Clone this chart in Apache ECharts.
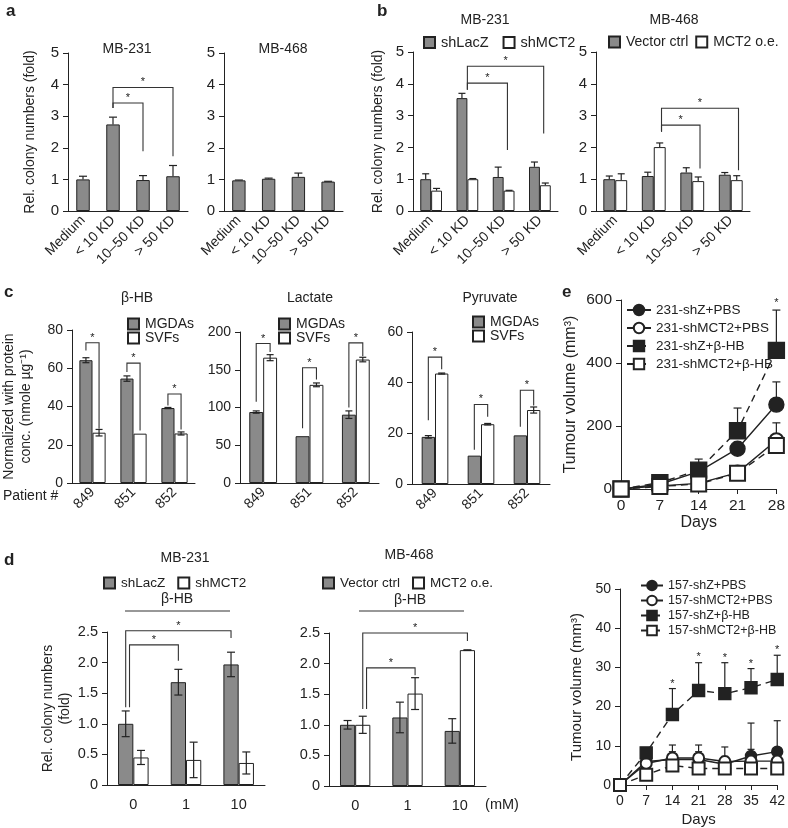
<!DOCTYPE html>
<html>
<head>
<meta charset="utf-8">
<script src="https://cdn.jsdelivr.net/npm/echarts@6/dist/echarts.min.js"></script>
<style>
  html, body { margin: 0; background: #fff; }
  #chart { width: 788px; height: 828px; }
</style>
</head>
<body>
<div id="chart"></div>
<script>
// ---- data ----
const fractions = ['Medium', '< 10 KD', '10–50 KD', '> 50 KD'];
const a231 = [1.0, 2.74, 0.98, 1.1];
const a231Err = [0.1, 0.23, 0.14, 0.34];
const a468 = [0.97, 1.02, 1.08, 0.93];
const a468Err = [0.01, 0.02, 0.12, 0.01];

const b231LacZ = [1.0, 3.55, 1.07, 1.39];
const b231LacZErr = [0.17, 0.15, 0.31, 0.15];
const b231MCT2 = [0.64, 1.0, 0.64, 0.81];
const b231MCT2Err = [0.07, 0.02, 0.01, 0.07];
const b468Vec = [1.0, 1.1, 1.21, 1.14];
const b468VecErr = [0.1, 0.12, 0.15, 0.07];
const b468OE = [0.97, 2.01, 0.94, 0.97];
const b468OEErr = [0.2, 0.13, 0.13, 0.14];

const patients = ['849', '851', '852'];
const hbMGDA = [64.2, 54.6, 39.2];
const hbMGDAErr = [1.3, 1.4, 0.3];
const hbSVF = [26.3, 25.8, 25.9];
const hbSVFErr = [1.7, 0, 0.8];
const lacMGDA = [94, 62, 90.5];
const lacMGDAErr = [1.5, 0, 5];
const lacSVF = [166, 130, 163.5];
const lacSVFErr = [4, 2.5, 3];
const pyrMGDA = [18.6, 11.2, 19.2];
const pyrMGDAErr = [0.5, 0, 0];
const pyrSVF = [43.6, 23.6, 29.2];
const pyrSVFErr = [0.2, 0.3, 1.2];

const doses = ['0', '1', '10'];
const d231LacZ = [1.0, 1.68, 1.97];
const d231LacZErr = [0.21, 0.21, 0.2];
const d231MCT2 = [0.45, 0.41, 0.36];
const d231MCT2Err = [0.115, 0.29, 0.18];
const d468Vec = [1.0, 1.12, 0.9];
const d468VecErr = [0.07, 0.25, 0.2];
const d468OE = [1.0, 1.51, 2.22];
const d468OEErr = [0.14, 0.26, 0.005];

const daysTop = [0, 7, 14, 21, 28];
const t231ZPBS = [0, 15, 55, 128, 268];
const t231ZPBSErr = [0, 3, 10, 20, 72];
const t231MCT2PBS = [0, 10, 18, 52, 155];
const t231MCT2PBSErr = [0, 2, 3, 10, 55];
const t231ZHB = [0, 20, 60, 185, 440];
const t231ZHBErr = [0, 5, 35, 72, 128];
const t231MCT2HB = [0, 8, 16, 50, 138];
const t231MCT2HBErr = [0, 2, 3, 18, 34];
const starsTop = [[28, 600]];

const daysBot = [0, 7, 14, 21, 28, 35, 42];
const b157ZPBS = [0, 6.0, 6.5, 6.5, 5.3, 7.4, 8.5];
const b157ZPBSErr = [0, 1, 2, 2, 2, 8.4, 7.9];
const b157MCT2PBS = [0, 5.5, 6.9, 6.9, 6.0, 6.1, 6.1];
const b157MCT2PBSErr = [0, 1, 3.3, 3.3, 3.7, 3, 3];
const b157ZHB = [0, 8.2, 18.0, 24.1, 23.3, 24.8, 26.9];
const b157ZHBErr = [0, 0, 6.6, 7.1, 7.9, 4.9, 6.2];
const b157MCT2HB = [0, 2.6, 5.0, 4.2, 4.2, 4.2, 4.2];
const b157MCT2HBErr = [0, 0.5, 0.5, 0.5, 0.5, 0.5, 0.5];
const starsBot = [[14, 26.6], [21, 33.4], [28, 33.1], [35, 31.7], [42, 35.1]];

// significance brackets: [cat1, side1, cat2, side2, top, leftEnd, rightEnd]
// side: -1 first bar centre, +1 second bar centre, 0 category centre
const brA231 = [[1, 0, 2, 0, 3.42, 3.26, 1.89], [1, 0, 3, 0, 3.91, 3.26, 1.73]];
const brB231 = [[1, 0, 2, 0.7, 4.02, 3.81, 1.92], [1, 0, 3, 0.7, 4.55, 3.81, 2.44]];
const brB468 = [[1, 1.3, 2, 1.3, 2.7, 2.49, 1.34], [1, 1.3, 3, 1.3, 3.23, 2.49, 1.28]];
const brHB = [[0, -1, 0, 1, 73.3, 69.3, 28.4], [1, -1, 1, 1, 62.7, 58, 27.5], [2, -1, 2, 1, 46.5, 40.5, 28]];
const brLac = [[0, -1, 0, 1, 184.8, 107.7, 173.6], [1, -1, 1, 1, 152.6, 72.5, 137], [2, -1, 2, 1, 185.6, 100, 168]];
const brPyr = [[0, -1, 0, 1, 50.1, 25.2, 45.3], [1, -1, 1, 1, 31.4, 13.5, 26.5], [2, -1, 2, 1, 37, 22.6, 31]];
const brD231 = [[0, -0.5, 1, -1, 2.29, 1.27, 2.03], [0, -1, 2, -1, 2.52, 1.27, 2.4]];
const brD468 = [[0, 1.5, 1, 1, 1.93, 1.26, 1.81], [0, 1, 2, 1, 2.5, 1.26, 2.37]];

// ---- styling helpers ----
const FONT = '"Liberation Sans", Arial, Helvetica, sans-serif';
const INK = '#222';
const GRAY = '#8a8a8a';

function catX(gi, cats, fs, rotate, margin) {
  return {
    type: 'category', gridIndex: gi, data: cats,
    axisLine: { lineStyle: { color: INK, width: 1 } },
    axisTick: { length: 5, lineStyle: { color: INK } },
    axisLabel: { rotate: rotate, margin: margin, fontSize: fs, color: INK, fontFamily: FONT, interval: 0 },
    splitLine: { show: false }
  };
}
function valAxis(gi, min, max, interval, fs, extra) {
  return Object.assign({
    type: 'value', gridIndex: gi, min: min, max: max, interval: interval,
    axisLine: { show: true, lineStyle: { color: INK, width: 1 } },
    axisTick: { show: true, length: 5, lineStyle: { color: INK } },
    axisLabel: { fontSize: fs, color: INK, fontFamily: FONT, margin: 9 },
    splitLine: { show: false },
    nameTextStyle: { fontSize: 14, color: INK, fontFamily: FONT, lineHeight: 17 }
  }, extra || {});
}

function bar(gi, name, vals, fill, w) {
  return {
    type: 'bar', name: name, xAxisIndex: gi, yAxisIndex: gi, data: vals,
    barWidth: w, barGap: '0%', z: 2,
    itemStyle: { color: fill, borderColor: INK, borderWidth: 1 }
  };
}

function errorBars(gi, vals, errs, side, barW, cap, both, xs) {
  return {
    type: 'custom', xAxisIndex: gi, yAxisIndex: gi, z: both ? 4 : 1, silent: true,
    data: vals.map((v, i) => [xs ? xs[i] : i, v, errs[i]]),
    renderItem: (params, api) => {
      const e = api.value(2);
      if (!e) return { type: 'group', children: [] };
      const v = api.value(1);
      const base = api.coord([api.value(0), v]);
      const band = api.size([1, 0])[0];
      const x = base[0] + side * band * barW / 2;
      const top = api.coord([api.value(0), v + e])[1];
      const bot = both ? api.coord([api.value(0), v - e])[1] : base[1];
      const st = { stroke: INK, lineWidth: 1.2 };
      const kids = [
        { type: 'line', shape: { x1: x, y1: top, x2: x, y2: bot }, style: st },
        { type: 'line', shape: { x1: x - cap, y1: top, x2: x + cap, y2: top }, style: st }
      ];
      if (both) kids.push({ type: 'line', shape: { x1: x - cap, y1: bot, x2: x + cap, y2: bot }, style: st });
      return { type: 'group', children: kids };
    }
  };
}

function brackets(gi, list, barW) {
  return {
    type: 'custom', xAxisIndex: gi, yAxisIndex: gi, z: 5, silent: true,
    encode: { x: [0, 2], y: [4, 5, 6] },
    data: list,
    renderItem: (params, api) => {
      const band = api.size([1, 0])[0];
      const x1 = api.coord([api.value(0), 0])[0] + api.value(1) * band * barW / 2;
      const x2 = api.coord([api.value(2), 0])[0] + api.value(3) * band * barW / 2;
      const yt = api.coord([0, api.value(4)])[1];
      const yl = api.coord([0, api.value(5)])[1];
      const yr = api.coord([0, api.value(6)])[1];
      return { type: 'group', children: [
        { type: 'polyline', shape: { points: [[x1, yl], [x1, yt], [x2, yt], [x2, yr]] },
          style: { stroke: '#333', fill: null, lineWidth: 1.1 } },
        { type: 'text', x: (x1 + x2) / 2, y: yt - 5,
          style: { text: '*', textAlign: 'center', textVerticalAlign: 'middle', fontSize: 11, fontFamily: FONT, fill: INK } }
      ] };
    }
  };
}

function stars(gi, pts) {
  return {
    type: 'custom', xAxisIndex: gi, yAxisIndex: gi, z: 6, silent: true, data: pts,
    renderItem: (params, api) => {
      const p = api.coord([api.value(0), api.value(1)]);
      return { type: 'text', x: p[0], y: p[1] + 3,
        style: { text: '*', textAlign: 'center', textVerticalAlign: 'middle', fontSize: 11, fontFamily: FONT, fill: INK } };
    }
  };
}

function line(gi, name, days, vals, symbol, size, dashed) {
  return {
    type: 'line', name: name, xAxisIndex: gi, yAxisIndex: gi, z: 3,
    data: days.map((d, i) => [d, vals[i]]),
    symbol: symbol, symbolSize: size, showAllSymbol: true,
    lineStyle: { color: INK, width: 1.4, type: dashed ? [7, 5] : 'solid' },
    itemStyle: { color: INK, borderColor: INK, borderWidth: 1.4 }
  };
}

function barLegend(names, left, top, fs, orient, gap) {
  return {
    data: names, left: left, top: top, orient: orient || 'horizontal', padding: 0,
    icon: 'rect', itemWidth: 11, itemHeight: 11, itemGap: gap, selectedMode: false,
    textStyle: { fontSize: fs, color: INK, fontFamily: FONT, padding: [0, 0, 0, 1] }
  };
}

function txt(x, y, s, size, extra) {
  return { type: 'text', x: x, y: y, silent: true,
    style: Object.assign({ text: s, textAlign: 'center', textVerticalAlign: 'middle',
      font: size + 'px ' + FONT, fill: INK }, extra || {}) };
}
function hline(x1, x2, y) {
  return { type: 'line', silent: true, shape: { x1: x1, y1: y, x2: x2, y2: y }, style: { stroke: '#333', lineWidth: 1.2 } };
}

const oneDec = v => (v === 0 ? '0' : v.toFixed(1));

// grid order: 0 a1, 1 a2, 2 b1, 3 b2, 4 c1, 5 c2, 6 c3, 7 d1, 8 d2, 9 e1, 10 e2
const option = {
  animation: false,
  backgroundColor: '#fff',
  grid: [
    { left: 68, top: 53, width: 120, height: 158 },
    { left: 224, top: 53, width: 119, height: 158 },
    { left: 413, top: 52, width: 145, height: 159 },
    { left: 596, top: 52, width: 154, height: 159 },
    { left: 69, top: 330, width: 126, height: 153 },
    { left: 240, top: 332, width: 139, height: 151 },
    { left: 412, top: 332, width: 138, height: 152 },
    { left: 107, top: 632, width: 158, height: 153 },
    { left: 329, top: 633, width: 157, height: 153 },
    { left: 621, top: 300, width: 157, height: 189 },
    { left: 620, top: 589, width: 161, height: 196 }
  ],
  xAxis: [
    catX(0, fractions, 14, 45, 7),
    catX(1, fractions, 14, 45, 7),
    catX(2, fractions, 14, 45, 7),
    catX(3, fractions, 14, 45, 7),
    catX(4, patients, 14, 45, 7),
    catX(5, patients, 14, 45, 7),
    catX(6, patients, 14, 45, 7),
    catX(7, doses, 14.5, 0, 12),
    catX(8, doses, 14.5, 0, 12),
    valAxis(9, 0, 28, 7, 15.5, { name: 'Days', nameLocation: 'middle', nameGap: 26,
      nameTextStyle: { fontSize: 16, color: INK, fontFamily: FONT } }),
    valAxis(10, 0, 42, 7, 14, { name: 'Days', nameLocation: 'middle', nameGap: 27,
      nameTextStyle: { fontSize: 15, color: INK, fontFamily: FONT } })
  ],
  yAxis: [
    valAxis(0, 0, 5, 1, 15, { name: 'Rel. colony numbers (fold)', nameLocation: 'middle', nameGap: 29 }),
    valAxis(1, 0, 5, 1, 15),
    valAxis(2, 0, 5, 1, 15, { name: 'Rel. colony numbers (fold)', nameLocation: 'middle', nameGap: 26 }),
    valAxis(3, 0, 5, 1, 15),
    valAxis(4, 0, 80, 20, 14, { name: 'Normalized with protein\nconc. (nmole µg⁻¹)', nameLocation: 'middle', nameGap: 37 }),
    valAxis(5, 0, 200, 50, 14),
    valAxis(6, 0, 60, 20, 14),
    valAxis(7, 0, 2.5, 0.5, 14.5, { name: 'Rel. colony numbers\n(fold)', nameLocation: 'middle', nameGap: 26,
      axisLabel: { fontSize: 14.5, color: INK, fontFamily: FONT, margin: 9, formatter: oneDec } }),
    valAxis(8, 0, 2.5, 0.5, 14.5, {
      axisLabel: { fontSize: 14.5, color: INK, fontFamily: FONT, margin: 9, formatter: oneDec } }),
    valAxis(9, 0, 600, 200, 15.5, { name: 'Tumour volume (mm³)', nameLocation: 'middle', nameGap: 42,
      nameTextStyle: { fontSize: 16, color: INK, fontFamily: FONT } }),
    valAxis(10, 0, 50, 10, 14, { name: 'Tumour volume (mm³)', nameLocation: 'middle', nameGap: 36,
      nameTextStyle: { fontSize: 15, color: INK, fontFamily: FONT } })
  ],
  legend: [
    barLegend(['shLacZ', 'shMCT2'], 423, 35, 14.5, 'horizontal', 14),
    Object.assign(barLegend(['Vector ctrl', 'MCT2 o.e.'], 608, 35, 14, 'horizontal', 7), { width: 178 }),
    barLegend(['MGDAs', 'SVFs'], 127, 317, 14, 'vertical', 0),
    barLegend(['MGDAs', 'SVFs'], 278, 317, 14, 'vertical', 0),
    barLegend(['MGDAs', 'SVFs'], 472, 315, 14, 'vertical', 0),
    barLegend(['shLacZ', 'shMCT2'], 103, 576, 13.5, 'horizontal', 12),
    barLegend(['Vector ctrl', 'MCT2 o.e.'], 322, 576, 13.5, 'horizontal', 12),
    { data: ['231-shZ+PBS', '231-shMCT2+PBS', '231-shZ+β-HB', '231-shMCT2+β-HB'],
      left: 626, top: 303, orient: 'vertical', padding: 0, itemWidth: 24, itemHeight: 13, itemGap: 4,
      selectedMode: false, textStyle: { fontSize: 13.5, color: INK, fontFamily: FONT } },
    { data: ['157-shZ+PBS', '157-shMCT2+PBS', '157-shZ+β-HB', '157-shMCT2+β-HB'],
      left: 640, top: 579, orient: 'vertical', padding: 0, itemWidth: 22, itemHeight: 12, itemGap: 2,
      selectedMode: false, textStyle: { fontSize: 12.5, color: INK, fontFamily: FONT } }
  ],
  series: [
    // a
    bar(0, 'a231', a231, GRAY, '45%'),
    errorBars(0, a231, a231Err, 0, 0.45, 4, false),
    brackets(0, brA231, 0.45),
    bar(1, 'a468', a468, GRAY, '45%'),
    errorBars(1, a468, a468Err, 0, 0.45, 4, false),
    // b
    bar(2, 'shLacZ', b231LacZ, GRAY, '30%'),
    bar(2, 'shMCT2', b231MCT2, '#fff', '30%'),
    errorBars(2, b231LacZ, b231LacZErr, -1, 0.30, 3.5, false),
    errorBars(2, b231MCT2, b231MCT2Err, 1, 0.30, 3.5, false),
    brackets(2, brB231, 0.30),
    bar(3, 'Vector ctrl', b468Vec, GRAY, '31%'),
    bar(3, 'MCT2 o.e.', b468OE, '#fff', '31%'),
    errorBars(3, b468Vec, b468VecErr, -1, 0.31, 3.5, false),
    errorBars(3, b468OE, b468OEErr, 1, 0.31, 3.5, false),
    brackets(3, brB468, 0.31),
    // c
    bar(4, 'MGDAs', hbMGDA, GRAY, '32%'),
    bar(4, 'SVFs', hbSVF, '#fff', '32%'),
    errorBars(4, hbMGDA, hbMGDAErr, -1, 0.32, 3.5, true),
    errorBars(4, hbSVF, hbSVFErr, 1, 0.32, 3.5, true),
    brackets(4, brHB, 0.32),
    bar(5, 'MGDAs', lacMGDA, GRAY, '30%'),
    bar(5, 'SVFs', lacSVF, '#fff', '30%'),
    errorBars(5, lacMGDA, lacMGDAErr, -1, 0.30, 3.5, true),
    errorBars(5, lacSVF, lacSVFErr, 1, 0.30, 3.5, true),
    brackets(5, brLac, 0.30),
    bar(6, 'MGDAs', pyrMGDA, GRAY, '29%'),
    bar(6, 'SVFs', pyrSVF, '#fff', '29%'),
    errorBars(6, pyrMGDA, pyrMGDAErr, -1, 0.29, 3.5, true),
    errorBars(6, pyrSVF, pyrSVFErr, 1, 0.29, 3.5, true),
    brackets(6, brPyr, 0.29),
    // d
    bar(7, 'shLacZ', d231LacZ, GRAY, '29%'),
    bar(7, 'shMCT2', d231MCT2, '#fff', '29%'),
    errorBars(7, d231LacZ, d231LacZErr, -1, 0.29, 4, true),
    errorBars(7, d231MCT2, d231MCT2Err, 1, 0.29, 4, true),
    brackets(7, brD231, 0.29),
    bar(8, 'Vector ctrl', d468Vec, GRAY, '29%'),
    bar(8, 'MCT2 o.e.', d468OE, '#fff', '29%'),
    errorBars(8, d468Vec, d468VecErr, -1, 0.29, 4, true),
    errorBars(8, d468OE, d468OEErr, 1, 0.29, 4, true),
    brackets(8, brD468, 0.29),
    // e top
    errorBars(9, t231ZPBS, t231ZPBSErr, 0, 0, 4, false, daysTop),
    errorBars(9, t231MCT2PBS, t231MCT2PBSErr, 0, 0, 4, false, daysTop),
    errorBars(9, t231ZHB, t231ZHBErr, 0, 0, 4, false, daysTop),
    errorBars(9, t231MCT2HB, t231MCT2HBErr, 0, 0, 4, false, daysTop),
    line(9, '231-shZ+PBS', daysTop, t231ZPBS, 'circle', 15, false),
    line(9, '231-shMCT2+PBS', daysTop, t231MCT2PBS, 'emptyCircle', 14, false),
    line(9, '231-shZ+β-HB', daysTop, t231ZHB, 'rect', 16, true),
    line(9, '231-shMCT2+β-HB', daysTop, t231MCT2HB, 'emptyRect', 15, true),
    stars(9, starsTop),
    // e bottom
    errorBars(10, b157ZPBS, b157ZPBSErr, 0, 0, 3.5, false, daysBot),
    errorBars(10, b157MCT2PBS, b157MCT2PBSErr, 0, 0, 3.5, false, daysBot),
    errorBars(10, b157ZHB, b157ZHBErr, 0, 0, 3.5, false, daysBot),
    errorBars(10, b157MCT2HB, b157MCT2HBErr, 0, 0, 3.5, false, daysBot),
    line(10, '157-shZ+PBS', daysBot, b157ZPBS, 'circle', 11, false),
    line(10, '157-shMCT2+PBS', daysBot, b157MCT2PBS, 'emptyCircle', 11, false),
    line(10, '157-shZ+β-HB', daysBot, b157ZHB, 'rect', 12, true),
    line(10, '157-shMCT2+β-HB', daysBot, b157MCT2HB, 'emptyRect', 12, true),
    stars(10, starsBot)
  ],
  graphic: { elements: [
    txt(6, 11, 'a', 17, { font: 'bold 17px ' + FONT, textAlign: 'left' }),
    txt(377, 11, 'b', 17, { font: 'bold 17px ' + FONT, textAlign: 'left' }),
    txt(4, 292, 'c', 17, { font: 'bold 17px ' + FONT, textAlign: 'left' }),
    txt(4, 560, 'd', 17, { font: 'bold 17px ' + FONT, textAlign: 'left' }),
    txt(562, 292, 'e', 17, { font: 'bold 17px ' + FONT, textAlign: 'left' }),
    txt(127, 49, 'MB-231', 14),
    txt(283, 49, 'MB-468', 14),
    txt(485, 20, 'MB-231', 14),
    txt(674, 20, 'MB-468', 14),
    txt(137, 298, 'β-HB', 14),
    txt(310, 298, 'Lactate', 14),
    txt(490, 298, 'Pyruvate', 14),
    txt(3, 496, 'Patient #', 14, { textAlign: 'left' }),
    txt(185, 558, 'MB-231', 14),
    txt(409, 555, 'MB-468', 14),
    txt(177, 599, 'β-HB', 14),
    hline(125, 230, 611),
    txt(410, 600, 'β-HB', 14),
    hline(359, 464, 611),
    txt(502, 805, '(mM)', 14.5)
  ] }
};

const chart = echarts.init(document.getElementById('chart'), null, { renderer: 'canvas' });
chart.setOption(option);
</script>
</body>
</html>
